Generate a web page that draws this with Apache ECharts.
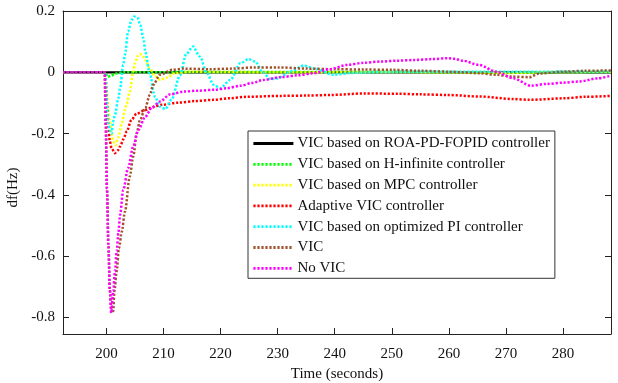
<!DOCTYPE html>
<html>
<head>
<meta charset="utf-8">
<script src="https://cdn.jsdelivr.net/npm/echarts@6/dist/echarts.min.js"></script>
<style>
  html, body { margin: 0; padding: 0; background: #fff; }
  #chart { width: 618px; height: 383px; }
</style>
</head>
<body>
<div id="chart"></div>
<script>
// Frequency deviation after a load step at t = 200 s, [time (s), df (Hz)] pairs
const roaPdFopid = [[192.4, 0], [288.4, 0]];

const hInfinite = [
  [192.4, 0], [199.8, 0], [200.2, -0.015], [200.8, -0.012], [201.5, -0.004],
  [203, 0], [220, 0.001], [250, 0.001], [270, -0.001], [288.4, 0.001]
];

const mpc = [
  [192.4, 0], [199.8, 0], [200.1, -0.07], [200.35, -0.12], [200.6, -0.16],
  [200.9, -0.2], [201.2, -0.226], [201.6, -0.238], [202.1, -0.212], [202.7, -0.166],
  [203.25, -0.123], [203.55, -0.103], [204.1, -0.063], [204.7, 0.0], [205, 0.03],
  [205.5, 0.053], [205.9, 0.06], [206.3, 0.056], [206.8, 0.04], [207.6, 0.013],
  [208.5, -0.013], [209.4, -0.024], [210.6, -0.017], [212, -0.003], [215, 0.002],
  [220, 0.001], [230, 0], [240, 0], [250, 0.001], [260, 0], [270, -0.002],
  [280, 0.001], [288.4, 0.002]
];

const adaptive = [
  [192.4, 0], [199.8, 0], [200.1, -0.1], [200.35, -0.18], [200.6, -0.225],
  [200.9, -0.248], [201.5, -0.264], [202, -0.255], [202.4, -0.242], [203, -0.218],
  [203.55, -0.193], [204.4, -0.155], [205.3, -0.135], [206.8, -0.123], [208.2, -0.113],
  [209.7, -0.106], [212.6, -0.099], [215.5, -0.094], [218.7, -0.09], [221.5, -0.085],
  [224.6, -0.08], [230.5, -0.077], [235, -0.076], [239.3, -0.074], [245.1, -0.069],
  [251, -0.07], [255, -0.072], [259.8, -0.074], [265.3, -0.079], [271.2, -0.087],
  [274.1, -0.09], [280, -0.085], [284, -0.08], [288.4, -0.077]
];

const optimizedPi = [
  [192.4, 0], [199.8, 0], [200.1, -0.1], [200.3, -0.166], [200.6, -0.19],
  [200.9, -0.2], [201.2, -0.16], [201.5, -0.139], [202.1, -0.085], [202.4, -0.052],
  [202.95, 0.024], [203.25, 0.057], [203.8, 0.133], [204.4, 0.171], [204.9, 0.182],
  [205.5, 0.177], [205.9, 0.155], [206.5, 0.111], [206.8, 0.068], [207.6, -0.005],
  [208.5, -0.08], [209.4, -0.112], [210.3, -0.12], [211.4, -0.09], [212.9, -0.01],
  [214, 0.06], [215.15, 0.084], [216.4, 0.051], [217.6, -0.003], [218.8, -0.041],
  [219.95, -0.052], [221.7, -0.025], [223.5, 0.03], [224.9, 0.043], [226.1, 0.035],
  [227.3, 0.002], [228.7, -0.022], [230, -0.02], [232.3, 0.003], [234.6, 0.022],
  [236.5, 0.012], [239.8, -0.008], [243, -0.002], [248, 0.001], [255, 0.002],
  [265, 0.002], [275, 0.002], [288.4, 0.003]
];

const vic = [
  [192.4, 0], [199.7, 0], [199.9, -0.18], [200.1, -0.38], [200.35, -0.56],
  [200.6, -0.71], [200.9, -0.785], [201.2, -0.78], [201.4, -0.715], [201.8, -0.65],
  [202.2, -0.574], [202.7, -0.52], [203.25, -0.455], [204.1, -0.34], [204.7, -0.275],
  [205.3, -0.199], [205.9, -0.155], [206.8, -0.117], [207.6, -0.074], [208.2, -0.041],
  [209.4, -0.008], [211.5, 0.008], [213.5, 0.012], [218, 0.01], [222, 0.012],
  [226, 0.016], [230, 0.016], [235, 0.012], [240, 0.01], [245, 0.009], [250, 0.008],
  [255, 0.005], [260, 0.002], [265.3, -0.003], [268.3, -0.008], [271.2, -0.014],
  [274.1, -0.016], [275.8, -0.004], [280, 0.002], [284, 0.005], [288.4, 0.006]
];

const noVic = [
  [192.4, 0], [199.7, 0], [199.9, -0.18], [200.1, -0.38], [200.35, -0.56],
  [200.6, -0.71], [200.85, -0.785], [201.2, -0.715], [201.5, -0.65], [201.8, -0.585],
  [202.1, -0.525], [202.4, -0.465], [202.95, -0.384], [203.8, -0.313], [204.7, -0.242],
  [205.6, -0.188], [206.8, -0.145], [208, -0.115], [209.4, -0.095], [211.2, -0.072],
  [213.5, -0.063], [216, -0.06], [219, -0.057], [221, -0.052], [223.5, -0.044],
  [225.5, -0.035], [227.5, -0.025], [230.5, -0.016], [233.5, -0.01], [236.3, -0.003],
  [239, 0.01], [242.2, 0.024], [245, 0.031], [248.1, 0.035], [251, 0.038],
  [253.9, 0.04], [257, 0.043], [259.8, 0.046], [261, 0.044], [262.4, 0.038],
  [265.3, 0.024], [268.3, 0.002], [271.2, -0.019], [274.4, -0.044], [277.1, -0.038],
  [280, -0.034], [282.9, -0.03], [286, -0.02], [288.4, -0.011]
];

const seriesNames = [
  'VIC based on ROA-PD-FOPID controller',
  'VIC based on H-infinite controller',
  'VIC based on MPC controller',
  'Adaptive VIC controller',
  'VIC based on optimized PI controller',
  'VIC',
  'No VIC'
];
const seriesData = [roaPdFopid, hInfinite, mpc, adaptive, optimizedPi, vic, noVic];
const seriesColors = ['#000000', '#00ff00', '#ffff00', '#ff0000', '#00ffff', '#a0522d', '#ff00ff'];

const xTicks = [200, 210, 220, 230, 240, 250, 260, 270, 280];
const yTicks = [-0.8, -0.6, -0.4, -0.2, 0, 0.2];

const FONT = 'Liberation Serif';
const AXIS_COLOR = '#222';

const chart = echarts.init(document.getElementById('chart'), null, { renderer: 'canvas' });

function xAxisDef(position, showLabels) {
  return {
    type: 'value',
    position: position,
    min: 192.4,
    max: 288.4,
    axisLine: { show: true, onZero: false, lineStyle: { color: AXIS_COLOR, width: 1 } },
    axisTick: { show: true, inside: true, length: 6, customValues: xTicks, lineStyle: { color: AXIS_COLOR } },
    axisLabel: {
      show: showLabels, customValues: xTicks, margin: 13,
      color: '#111', fontFamily: FONT, fontSize: 15
    },
    splitLine: { show: false },
    name: showLabels ? 'Time (seconds)' : '',
    nameLocation: 'middle',
    nameGap: 33,
    nameTextStyle: { color: '#111', fontFamily: FONT, fontSize: 15 }
  };
}

function yAxisDef(position, showLabels) {
  return {
    type: 'value',
    position: position,
    min: -0.854,
    max: 0.2,
    axisLine: { show: true, onZero: false, lineStyle: { color: AXIS_COLOR, width: 1 } },
    axisTick: { show: true, inside: true, length: 6, customValues: yTicks, lineStyle: { color: AXIS_COLOR } },
    axisLabel: {
      show: showLabels, customValues: yTicks, margin: 8,
      color: '#111', fontFamily: FONT, fontSize: 15,
      formatter: function (v) { return String(Math.round(v * 10) / 10); }
    },
    splitLine: { show: false },
    name: showLabels ? 'df(Hz)' : '',
    nameLocation: 'middle',
    nameGap: 32,
    // padding on the (rotated) right side nudges the title down a little
    nameTextStyle: { color: '#111', fontFamily: FONT, fontSize: 15, padding: [0, 30, 0, 0] }
  };
}

const series = seriesNames.map(function (name, i) {
  const solid = i === 0;
  return {
    name: name,
    type: 'line',
    xAxisIndex: 0,
    yAxisIndex: 0,
    data: seriesData[i],
    showSymbol: false,
    symbol: 'none',
    smooth: 0.3,
    smoothMonotone: 'x',
    animation: false,
    color: seriesColors[i],
    lineStyle: {
      color: seriesColors[i],
      width: solid ? 2.2 : 2.5,
      type: solid ? 'solid' : [2.2, 1.8],
      cap: 'butt'
    },
    emphasis: { disabled: true }
  };
});

chart.setOption({
  backgroundColor: '#ffffff',
  animation: false,
  grid: { left: 63, right: 7, top: 11, bottom: 49, outerBoundsMode: 'none', containLabel: false },
  xAxis: [xAxisDef('bottom', true), xAxisDef('top', false)],
  yAxis: [yAxisDef('left', true), yAxisDef('right', false)],
  legend: {
    data: seriesNames,
    orient: 'vertical',
    left: 248,
    top: 131,
    itemWidth: 40,
    itemHeight: 14,
    itemGap: 5.8,
    padding: [5, 5, 2.5, 4],
    backgroundColor: '#ffffff',
    borderColor: '#333',
    borderWidth: 1,
    borderRadius: 0,
    selectedMode: false,
    // legend keys show only the line sample, no marker
    itemStyle: { color: 'rgba(0,0,0,0)', borderWidth: 0, opacity: 0 },
    lineStyle: { width: 2.8 },
    textStyle: { color: '#111', fontFamily: FONT, fontSize: 15, padding: [0, 0, 0, -1] }
  },
  series: series
});
</script>
</body>
</html>
